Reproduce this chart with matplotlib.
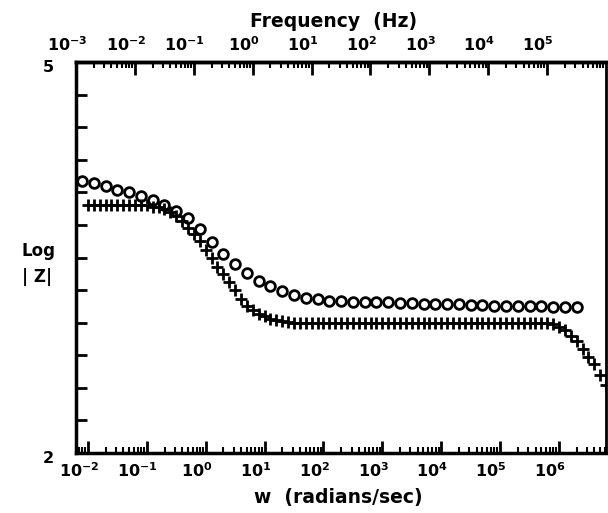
import numpy as np
import matplotlib
matplotlib.use('Agg')
import matplotlib.pyplot as plt
from matplotlib.ticker import LogLocator, NullFormatter, MultipleLocator
from matplotlib.transforms import ScaledTranslation

# log10(w) and log10|Z|
circ_logw = [-2.1, -1.9, -1.7, -1.5, -1.3, -1.1, -0.9, -0.7, -0.5, -0.3,
             -0.1, 0.1, 0.3, 0.5, 0.7, 0.9, 1.1, 1.3, 1.5, 1.7,
             1.9, 2.1, 2.3, 2.5, 2.7, 2.9, 3.1, 3.3, 3.5, 3.7,
             3.9, 4.1, 4.3, 4.5, 4.7, 4.9, 5.1, 5.3, 5.5, 5.7,
             5.9, 6.1, 6.3]
circ_logz = [4.09, 4.07, 4.05, 4.02, 4.00, 3.97, 3.94, 3.90, 3.86, 3.80,
             3.72, 3.62, 3.53, 3.45, 3.38, 3.32, 3.28, 3.24, 3.21, 3.19,
             3.18, 3.17, 3.165, 3.16, 3.16, 3.155, 3.155, 3.15, 3.15, 3.145,
             3.145, 3.14, 3.14, 3.135, 3.135, 3.13, 3.13, 3.13, 3.125, 3.125,
             3.12, 3.12, 3.12]

cross_logw = [-2.0, -1.9, -1.8, -1.7, -1.6, -1.5, -1.4, -1.3, -1.2, -1.1,
              -1.0, -0.9, -0.8, -0.7, -0.6, -0.5, -0.4, -0.3, -0.2, -0.1,
              0.0, 0.1, 0.2, 0.3, 0.4, 0.5, 0.6, 0.7, 0.8, 0.9,
              1.0, 1.1, 1.2, 1.3, 1.4, 1.5, 1.6, 1.7, 1.8, 1.9,
              2.0, 2.1, 2.2, 2.3, 2.4, 2.5, 2.6, 2.7, 2.8, 2.9,
              3.0, 3.1, 3.2, 3.3, 3.4, 3.5, 3.6, 3.7, 3.8, 3.9,
              4.0, 4.1, 4.2, 4.3, 4.4, 4.5, 4.6, 4.7, 4.8, 4.9,
              5.0, 5.1, 5.2, 5.3, 5.4, 5.5, 5.6, 5.7, 5.8, 5.9,
              6.0, 6.1, 6.2, 6.3, 6.4, 6.5, 6.6, 6.7, 6.8]
cross_logz = [3.905, 3.905, 3.905, 3.905, 3.905, 3.905, 3.905, 3.905, 3.905, 3.90,
              3.90, 3.89, 3.885, 3.87, 3.85, 3.82, 3.78, 3.73, 3.68, 3.63,
              3.56, 3.50, 3.43, 3.37, 3.31, 3.25, 3.18, 3.13, 3.10, 3.07,
              3.05, 3.03, 3.02, 3.01, 3.005, 3.0, 3.0, 3.0, 3.0, 3.0,
              3.0, 3.0, 3.0, 3.0, 3.0, 3.0, 3.0, 3.0, 3.0, 3.0,
              3.0, 3.0, 3.0, 3.0, 3.0, 3.0, 3.0, 3.0, 3.0, 3.0,
              3.0, 3.0, 3.0, 3.0, 3.0, 3.0, 3.0, 3.0, 3.0, 3.0,
              3.0, 3.0, 3.0, 3.0, 3.0, 3.0, 3.0, 3.0, 3.0, 2.99,
              2.97, 2.94, 2.90, 2.86, 2.80, 2.74, 2.68, 2.60, 2.52]

bottom_exps = [-2, -1, 0, 1, 2, 3, 4, 5, 6]
top_exps = [-3, -2, -1, 0, 1, 2, 3, 4, 5]

plt.rcParams['font.family'] = 'DejaVu Sans'
plt.rcParams['font.weight'] = 'bold'
plt.rcParams['mathtext.default'] = 'bf'
plt.rcParams['font.size'] = 11.5

fig = plt.figure(figsize=(6.08, 5.13), dpi=100)
ax = fig.add_axes([76 / 608, 60 / 513, 530 / 608, 391 / 513])

ax.plot(10.0 ** np.array(circ_logw), circ_logz, linestyle='none', marker='o',
        markersize=7, markerfacecolor='none', markeredgecolor='black',
        markeredgewidth=2, clip_on=False)
ax.plot(10.0 ** np.array(cross_logw), cross_logz, linestyle='none',
        marker='+', markersize=8, color='black', markeredgewidth=2)

ax.set_xscale('log')
ax.set_xlim(1e-3 * 2 * np.pi, 1e6 * 2 * np.pi)
ax.set_ylim(2, 5)

ax.set_xticks([10.0 ** e for e in bottom_exps],
              [f'$10^{{{e}}}$' for e in bottom_exps])
ax.xaxis.set_minor_locator(LogLocator(base=10, subs=range(2, 10), numticks=20))
ax.xaxis.set_minor_formatter(NullFormatter())
ax.tick_params(axis='x', which='major', direction='in', length=9, width=2,
               top=False, pad=6)
ax.tick_params(axis='x', which='minor', direction='in', length=4, width=1.5,
               top=False)

ax.set_yticks([2, 5], ['2', '5'])
ax.yaxis.set_minor_locator(MultipleLocator(0.25))
ax.tick_params(axis='y', which='both', direction='in', length=8, width=2,
               right=False, pad=16)

w2f = lambda w: w / (2 * np.pi)
f2w = lambda f: f * 2 * np.pi
sec = ax.secondary_xaxis('top', functions=(w2f, f2w))
sec.set_xticks([10.0 ** e for e in top_exps],
               [f'$10^{{{e}}}$' for e in top_exps])
sec.xaxis.set_minor_locator(LogLocator(base=10, subs=range(2, 10), numticks=20))
sec.xaxis.set_minor_formatter(NullFormatter())
sec.tick_params(axis='x', which='major', direction='in', length=9, width=2, pad=6)
sec.tick_params(axis='x', which='minor', direction='in', length=4, width=1.5)
sec.spines['top'].set_linewidth(2.5)

for s in ['left', 'bottom', 'top']:
    ax.spines[s].set_linewidth(2.5)
ax.spines['right'].set_linewidth(2)

# labels sit a little left of their ticks in the original
shift = ScaledTranslation(-0.09, 0, fig.dpi_scale_trans)
for lbl in ax.get_xticklabels() + sec.get_xticklabels():
    lbl.set_transform(lbl.get_transform() + shift)
ydown = ScaledTranslation(0, -0.04, fig.dpi_scale_trans)
for lbl in ax.get_yticklabels():
    lbl.set_transform(lbl.get_transform() + ydown)

fig.text(0.548, 0.958, 'Frequency  (Hz)', ha='center', va='center',
         fontsize=13.5, fontweight='bold')
fig.text(0.556, 0.030, 'w  (radians/sec)', ha='center', va='center',
         fontsize=13.5, fontweight='bold')
fig.text(0.036, 0.485, 'Log\n| Z|', ha='left', va='center', fontsize=12,
         fontweight='bold', linespacing=1.6)

fig.savefig('out.png', dpi=100)
